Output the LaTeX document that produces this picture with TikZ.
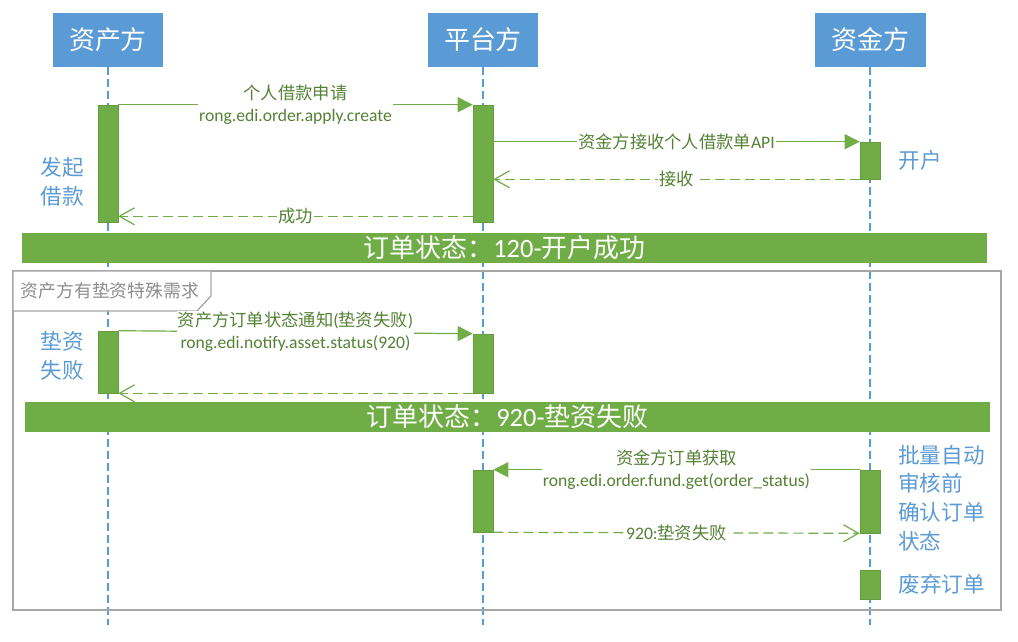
\documentclass[tikz,border=0pt]{standalone}
\usepackage{fontspec}
\setmainfont{Carlito}[Scale=1.1, Numbers=Lining]
\newfontfamily\cjk[Scale=1.08]{Noto Sans CJK SC}
\usetikzlibrary{arrows.meta,positioning}
\definecolor{myblue}{RGB}{91,155,213}
\definecolor{mygreen}{RGB}{112,173,71}
\definecolor{mydarkgreen}{RGB}{84,130,53}
\definecolor{mygray}{RGB}{166,166,166}

\begin{document}
\begin{tikzpicture}[x=1pt,y=-1pt,
		party/.style={fill=myblue, text=white, minimum width=110pt, minimum height=54pt, inner sep=0pt, font=\fontsize{24}{28}\selectfont\cjk},
		lifeline/.style={myblue, line width=1.2pt, dash pattern=on 8pt off 4pt},
		actbar/.style={fill=mygreen, draw=mygreen!90!black, line width=0.6pt, minimum width=20pt, inner sep=0pt},
		callmsg/.style={mygreen, line width=1.2pt, -{Triangle[length=15pt,width=15pt]}},
		replymsg/.style={mygreen, line width=1.2pt, dash pattern=on 10pt off 5pt, -{Straight Barb[length=15pt,width=17pt]}},
		msgtext/.style={fill=white, text=mydarkgreen, inner sep=1pt, align=center, font=\fontsize{16}{22}\selectfont},
		statebar/.style={fill=mygreen, text=white, minimum width=965pt, minimum height=30pt, inner sep=0pt, font=\fontsize{24}{28}\selectfont},
		sidenote/.style={text=myblue, inner sep=0pt, font=\fontsize{20}{28.7}\selectfont\cjk},
		framebox/.style={mygray, line width=1.3pt}]
		\useasboundingbox (0,0) rectangle (1018,642);
		
		%Parties
		\node[party] (asset) at (108,40) {资产方};
		\node[party] (platform) at (483,40) {平台方};
		\node[party, minimum width=111pt] (fund) at (870.5,40) {资金方};
		
		\coordinate (assetend) at (108,625);
		\coordinate (platformend) at (483,625);
		\coordinate (fundend) at (870,625);
		\draw[lifeline] (asset.south) -- (assetend);
		\draw[lifeline] (platform.south) -- (platformend);
		\draw[lifeline] ([xshift=-0.5pt]fund.south) -- (fundend);
		
		%Frame
		\draw[framebox] (13,271) rectangle (1001,610);
		\draw[framebox, fill=white] (13,271) -- (211,271) -- (211,296) -- (197,311) -- (13,311) -- cycle;
		\node[text=mygray!85!black, inner sep=0pt, font=\fontsize{16.5}{20}\selectfont\cjk] (special) at (110,291) {资产方有垫资特殊需求};
		
		%States
		\node[statebar] (state1) at (504.5,248) {{\cjk 订单状态：}120-{\cjk 开户成功}};
		\node[statebar] (state2) at (507.5,417) {{\cjk 订单状态：}920-{\cjk 垫资失败}};
		
		%Activations
		\node[actbar, minimum height=117pt] (a1) at (108,163.5) {};
		\node[actbar, minimum height=117pt] (p1) at (483,163.5) {};
		\node[actbar, minimum height=37pt] (f1) at (870,160.5) {};
		\node[actbar, minimum height=62pt] (a2) at (108,362) {};
		\node[actbar, minimum height=59pt] (p2) at (483,363.5) {};
		\node[actbar, minimum height=62pt] (p3) at (483,501) {};
		\node[actbar, minimum height=63pt] (f2) at (870,501.5) {};
		\node[actbar, minimum height=29pt] (f3) at (870,584.5) {};
		
		%Messages
		\draw[callmsg] (a1.north east) -- (p1.north west)
		node[msgtext, midway] (m1) {{\cjk 个人借款申请}\\rong.edi.order.apply.create};
		\draw[callmsg] (p1.east |- f1.north west) -- (f1.north west)
		node[msgtext, midway] (m2) {{\cjk 资金方接收个人借款单}API};
		\draw[replymsg] (f1.south west) -- (p1.east |- f1.south west)
		node[msgtext, midway] (m3) {{\cjk 接收}};
		\coordinate (r4) at ([yshift=6pt]p1.south west);
		\draw[replymsg] (r4) -- (a1.east |- r4)
		node[msgtext, midway] (m4) {{\cjk 成功}};
		
		\draw[callmsg] (a2.north east) -- (p2.north west)
		node[msgtext, midway] (m5) {{\cjk 资产方订单状态通知}({\cjk 垫资失败})\\rong.edi.notify.asset.status(920)};
		\draw[replymsg] (p2.south west) -- (a2.south east);
		
		\draw[callmsg] (f2.north west) -- (p3.north east)
		node[msgtext, midway] (m7) {{\cjk 资金方订单获取}\\rong.edi.order.fund.get(order\_status)};
		\draw[replymsg] (p3.south east) -- (f2.south west)
		node[msgtext, midway] (m8) {920:{\cjk 垫资失败}};
		
		%Annotations
		\node[sidenote, align=center] (n1) at (62,181.5) {发起\\借款};
		\node[sidenote, right=18pt of f1] (n2) {开户};
		\node[sidenote, align=center] (n3) at (62,356) {垫资\\失败};
		\node[sidenote, align=left, anchor=west] (n4) at (898,498) {批量自动\\审核前\\确认订单\\状态};
		\node[sidenote, right=18pt of f3] (n5) {废弃订单};
		
	\end{tikzpicture}
\end{document}
